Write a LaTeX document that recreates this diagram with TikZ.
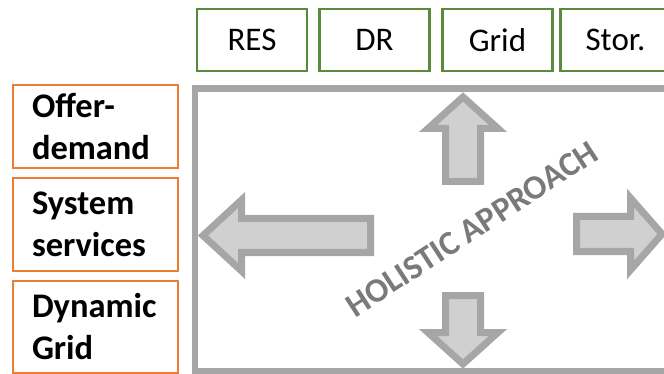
\documentclass[tikz,border=0pt]{standalone}
\usepackage{fontspec}
\setmainfont{Carlito}
\definecolor{boxgreen}{HTML}{5A8A3C}
\definecolor{boxorange}{HTML}{ED7D31}
\definecolor{framegray}{HTML}{A6A6A6}
\definecolor{arrowfill}{HTML}{D0D0D0}
\definecolor{textgray}{HTML}{7A7A7A}
\begin{document}
\begin{tikzpicture}[x=1pt,y=-1pt,
  topbox/.style={draw=boxgreen,line width=2.8pt,minimum width=110pt,minimum height=62pt,inner sep=0pt,font=\fontsize{33}{38}\selectfont},
  sidebox/.style={draw=boxorange,line width=2.8pt,text width=127pt,inner xsep=19pt,inner ysep=0pt,align=left,font=\bfseries\fontsize{34.5}{42}\selectfont},
  bigarrow/.style={draw=framegray,fill=arrowfill,line width=7pt,line join=miter},
  frame/.style={draw=framegray,line width=6.5pt}]
\useasboundingbox (0,0) rectangle (664,374);
\clip (0,0) rectangle (664,374);
% frame
\draw[frame] (195,88.5) rectangle (672,371.5);
% arrows
\draw[bigarrow] (463,97) -- (498,128.5) -- (480.5,128.5) -- (480.5,181.5) -- (445.5,181.5) -- (445.5,128.5) -- (428,128.5) -- cycle;
\draw[bigarrow] (463,364) -- (498,332.5) -- (480.5,332.5) -- (480.5,295.5) -- (445.5,295.5) -- (445.5,332.5) -- (428,332.5) -- cycle;
\draw[bigarrow] (203,235.5) -- (241.5,200) -- (241.5,218.5) -- (370.5,218.5) -- (370.5,252.5) -- (241.5,252.5) -- (241.5,271) -- cycle;
\draw[bigarrow] (662,234) -- (630.5,198) -- (630.5,216.5) -- (576.5,216.5) -- (576.5,251.5) -- (630.5,251.5) -- (630.5,270) -- cycle;
% label
\node[text=textgray,font=\bfseries\fontsize{34}{40}\selectfont,rotate=33] (holistic) at (472,229) {HOLISTIC APPROACH};
% top boxes
\node[topbox] (res) at (252,40) {RES};
\node[topbox] (dr) at (374.5,40) {DR};
\node[topbox] (grid) at (497.5,40) {Grid};
\node[topbox] (stor) at (615.5,40) {Stor.};
% side boxes
\node[sidebox,minimum height=83pt] (offer) at (95.5,126.5) {Offer-\\demand};
\node[sidebox,minimum height=93pt] (system) at (95.5,224.5) {System\\services};
\node[sidebox,minimum height=92pt] (dyn) at (95.5,327) {Dynamic\\Grid};
\end{tikzpicture}
\end{document}
